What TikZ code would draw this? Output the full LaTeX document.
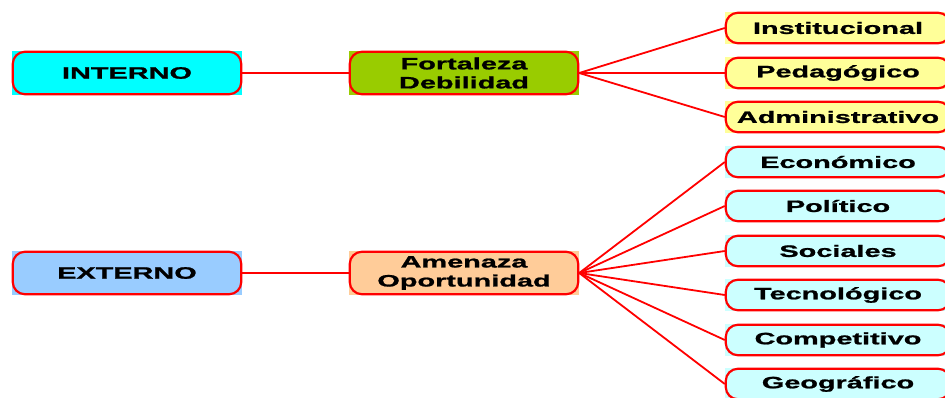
\documentclass[tikz,border=0pt]{standalone}
\usepackage{fontspec}
\setmainfont[FakeStretch=1.75, BoldFeatures={FakeBold=1.2}]{Liberation Sans}
\definecolor{brightcyan}{RGB}{0,255,255}
\definecolor{leafgreen}{RGB}{153,204,0}
\definecolor{paleyellow}{RGB}{255,255,153}
\definecolor{skyblue}{RGB}{153,204,255}
\definecolor{peach}{RGB}{255,204,153}
\definecolor{palecyan}{RGB}{204,255,255}

\begin{document}
\begin{tikzpicture}[x=1pt, y=1pt,
    box/.style={rectangle, fill=#1, inner sep=0pt, align=center, font=\bfseries\fontsize{16.5}{19}\selectfont},
    side/.style={box=#1, minimum width=230, minimum height=44},
    leaf/.style={box=#1, minimum width=226, minimum height=32},
    border/.style={draw=red, line width=2.2pt, rounded corners=12pt},
    link/.style={draw=red, line width=1.8pt}]
    \useasboundingbox (0,0) rectangle (945,397);
    % left column
    \node[side=brightcyan](interno) at (127,324) {INTERNO};
    \node[side=skyblue](externo) at (127,124) {EXTERNO};
    % middle column
    \node[side=leafgreen](fortaleza) at (464,324) {Fortaleza\\Debilidad};
    \node[side=peach](amenaza) at (464,124) {Amenaza\\Oportunidad};
    % right column
    \node[leaf=paleyellow](institucional) at (838,369) {Institucional};
    \node[leaf=paleyellow](pedagogico) at (838,324) {Pedagógico};
    \node[leaf=paleyellow](administrativo) at (838,280) {Administrativo};
    \node[leaf=palecyan](economico) at (838,235) {Económico};
    \node[leaf=palecyan](politico) at (838,191) {Político};
    \node[leaf=palecyan](sociales) at (838,146) {Sociales};
    \node[leaf=palecyan](tecnologico) at (838,102) {Tecnológico};
    \node[leaf=palecyan](competitivo) at (838,57) {Competitivo};
    \node[leaf=palecyan](geografico) at (838,13) {Geográfico};
    \foreach \b in {interno, externo, fortaleza, amenaza, institucional, pedagogico,
        administrativo, economico, politico, sociales, tecnologico, competitivo, geografico}
        \draw[border] ([shift={(1,-1)}]\b.north west) rectangle ([shift={(-1,1)}]\b.south east);
    \draw[link] (interno) to (fortaleza);
    \draw[link] (externo) to (amenaza);
    \foreach \b in {institucional, pedagogico, administrativo}
        \draw[link] (fortaleza.east) to (\b.west);
    \foreach \b in {economico, politico, sociales, tecnologico, competitivo, geografico}
        \draw[link] (amenaza.east) to (\b.west);
\end{tikzpicture}
\end{document}
